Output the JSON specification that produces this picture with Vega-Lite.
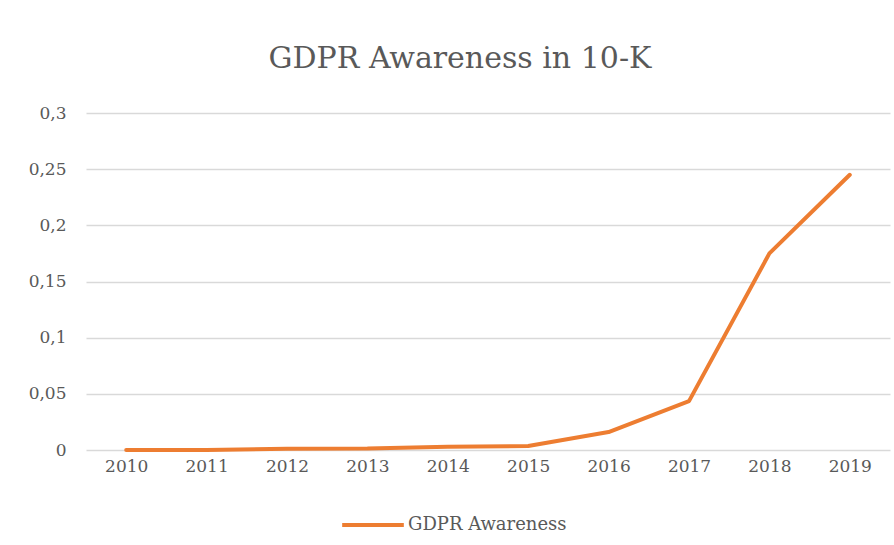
{
  "$schema": "https://vega.github.io/schema/vega-lite/v6.json",
  "autosize": {"type": "none"},
  "padding": {"left": 86, "top": 113, "right": 4, "bottom": 95},
  "width": 804,
  "height": 337,
  "background": "white",
  "title": {
    "text": "GDPR Awareness in 10-K",
    "font": "DejaVu Serif",
    "fontSize": 30,
    "fontWeight": "normal",
    "color": "#595959",
    "anchor": "middle",
    "dx": -28,
    "offset": 30
  },
  "data": {
    "values": [
      {"year": "2010", "value": 0, "series": "GDPR Awareness"},
      {"year": "2011", "value": 0, "series": "GDPR Awareness"},
      {"year": "2012", "value": 0.0012, "series": "GDPR Awareness"},
      {"year": "2013", "value": 0.0013, "series": "GDPR Awareness"},
      {"year": "2014", "value": 0.003, "series": "GDPR Awareness"},
      {"year": "2015", "value": 0.0035, "series": "GDPR Awareness"},
      {"year": "2016", "value": 0.016, "series": "GDPR Awareness"},
      {"year": "2017", "value": 0.0435, "series": "GDPR Awareness"},
      {"year": "2018", "value": 0.175, "series": "GDPR Awareness"},
      {"year": "2019", "value": 0.245, "series": "GDPR Awareness"}
    ]
  },
  "mark": {"type": "line", "strokeWidth": 4, "strokeCap": "round", "strokeJoin": "round"},
  "encoding": {
    "x": {
      "field": "year",
      "type": "ordinal",
      "scale": {"type": "point", "padding": 0.5},
      "axis": {
        "title": null,
        "labelAngle": 0,
        "domain": false,
        "ticks": false,
        "grid": false,
        "labelFont": "DejaVu Serif",
        "labelFontSize": 17,
        "labelColor": "#595959",
        "labelPadding": 8
      }
    },
    "y": {
      "field": "value",
      "type": "quantitative",
      "scale": {"domain": [0, 0.3], "nice": false},
      "axis": {
        "title": null,
        "values": [0, 0.05, 0.1, 0.15, 0.2, 0.25, 0.3],
        "labelExpr": "replace(format(datum.value, ''), '.', ',')",
        "domain": false,
        "ticks": false,
        "grid": true,
        "gridColor": "#D9D9D9",
        "gridWidth": 1.3,
        "labelFont": "DejaVu Serif",
        "labelFontSize": 17,
        "labelColor": "#595959",
        "labelPadding": 20
      }
    },
    "color": {
      "field": "series",
      "type": "nominal",
      "scale": {"range": ["#ED7D31"]},
      "legend": {
        "title": null,
        "orient": "none",
        "legendX": 254,
        "legendY": 379,
        "symbolType": "stroke",
        "symbolSize": 3800,
        "symbolStrokeWidth": 4,
        "labelFont": "DejaVu Serif",
        "labelFontSize": 18,
        "labelColor": "#595959",
        "labelOffset": 2
      }
    }
  },
  "config": {"view": {"stroke": null}}
}
